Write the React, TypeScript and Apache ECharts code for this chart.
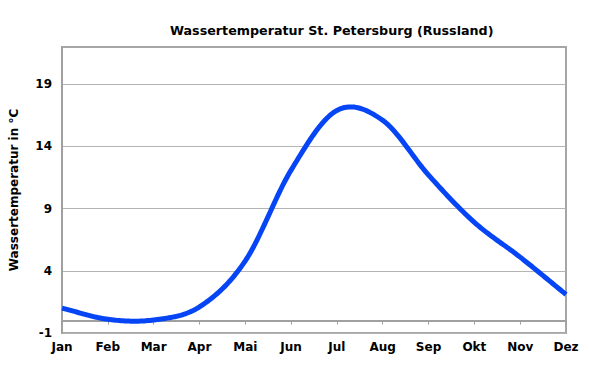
import React, { useEffect, useRef } from "react";
import * as echarts from "echarts";

const months = ["Jan", "Feb", "Mar", "Apr", "Mai", "Jun", "Jul", "Aug", "Sep", "Okt", "Nov", "Dez"];
const waterTemp = [1.0, 0.1, 0.05, 1.1, 4.8, 12.1, 16.9, 16.1, 11.7, 7.9, 5.1, 2.1];
const yTicks = [-1, 4, 9, 14, 19];

const FONT = "DejaVu Sans";

function catmullRom(pts: number[][], steps: number): number[][] {
  const out: number[][] = [];
  const n = pts.length;
  const get = (i: number) => {
    if (i < 0) return [2 * pts[0][0] - pts[1][0], 2 * pts[0][1] - pts[1][1]];
    if (i >= n) return [2 * pts[n - 1][0] - pts[n - 2][0], 2 * pts[n - 1][1] - pts[n - 2][1]];
    return pts[i];
  };
  for (let i = 0; i < n - 1; i++) {
    const p0 = get(i - 1), p1 = get(i), p2 = get(i + 1), p3 = get(i + 2);
    const m1 = [(p2[0] - p0[0]) / 2, (p2[1] - p0[1]) / 2];
    const m2 = [(p3[0] - p1[0]) / 2, (p3[1] - p1[1]) / 2];
    for (let s = 0; s < steps; s++) {
      const t = s / steps;
      const t2 = t * t, t3 = t2 * t;
      const h00 = 2 * t3 - 3 * t2 + 1, h10 = t3 - 2 * t2 + t, h01 = -2 * t3 + 3 * t2, h11 = t3 - t2;
      out.push([
        h00 * p1[0] + h10 * m1[0] + h01 * p2[0] + h11 * m2[0],
        h00 * p1[1] + h10 * m1[1] + h01 * p2[1] + h11 * m2[1],
      ]);
    }
  }
  out.push(pts[n - 1]);
  return out;
}

export default function App() {
  const ref = useRef<HTMLDivElement>(null);
  useEffect(() => {
    if (!ref.current) return;
    const chart = echarts.init(ref.current, undefined, { renderer: "svg" });
    chart.setOption({
      animation: false,
      backgroundColor: "#ffffff",
      title: {
        text: "Wassertemperatur St. Petersburg (Russland)",
        left: 165,
        top: 19,
        textStyle: { fontFamily: FONT, fontWeight: "bold", fontSize: 12.7, color: "#000" },
      },
      grid: {
        left: 58,
        right: 23,
        top: 47,
        bottom: 38,
        show: true,
        borderColor: "#a6a6a6",
        borderWidth: 2,
      },
      xAxis: {
        type: "category",
        data: months,
        boundaryGap: false,
        axisLine: { lineStyle: { color: "#a0a0a0", width: 2 } },
        axisTick: { show: true, length: 4, lineStyle: { color: "#a0a0a0", width: 1 } },
        axisLabel: { fontFamily: FONT, fontWeight: "bold", fontSize: 12, color: "#000", margin: 8 },
        splitLine: { show: false },
      },
      yAxis: {
        type: "value",
        min: -1,
        max: 22,
        name: "Wassertemperatur in °C",
        nameLocation: "middle",
        nameGap: 42,
        nameTextStyle: { fontFamily: FONT, fontWeight: "bold", fontSize: 12, color: "#000" },
        axisLine: { show: true, lineStyle: { color: "#a0a0a0", width: 2 } },
        axisTick: { show: false, customValues: yTicks },
        axisLabel: { customValues: yTicks, fontFamily: FONT, fontWeight: "bold", fontSize: 12, color: "#000", margin: 10 },
        splitLine: { show: true, lineStyle: { color: "#b4b4b4", width: 1 } },
      },
      series: [
        {
          type: "custom",
          data: waterTemp.map((v, i) => [i, v]),
          encode: { x: 0, y: 1 },
          renderItem: (params: any, api: any) => {
            if (params.dataIndex !== 0) return null;
            const pts = waterTemp.map((v, i) => api.coord([i, v]));
            const curve = catmullRom(pts, 24);
            return {
              type: "polyline",
              shape: { points: curve },
              style: { stroke: "#0645f5", lineWidth: 5, fill: "none", lineJoin: "round", lineCap: "butt" },
              silent: true,
            };
          },
        },
      ],
    });
    return () => chart.dispose();
  }, []);
  return <div ref={ref} style={{ width: 589, height: 371, position: "absolute", left: 0, top: 0 }} />;
}
